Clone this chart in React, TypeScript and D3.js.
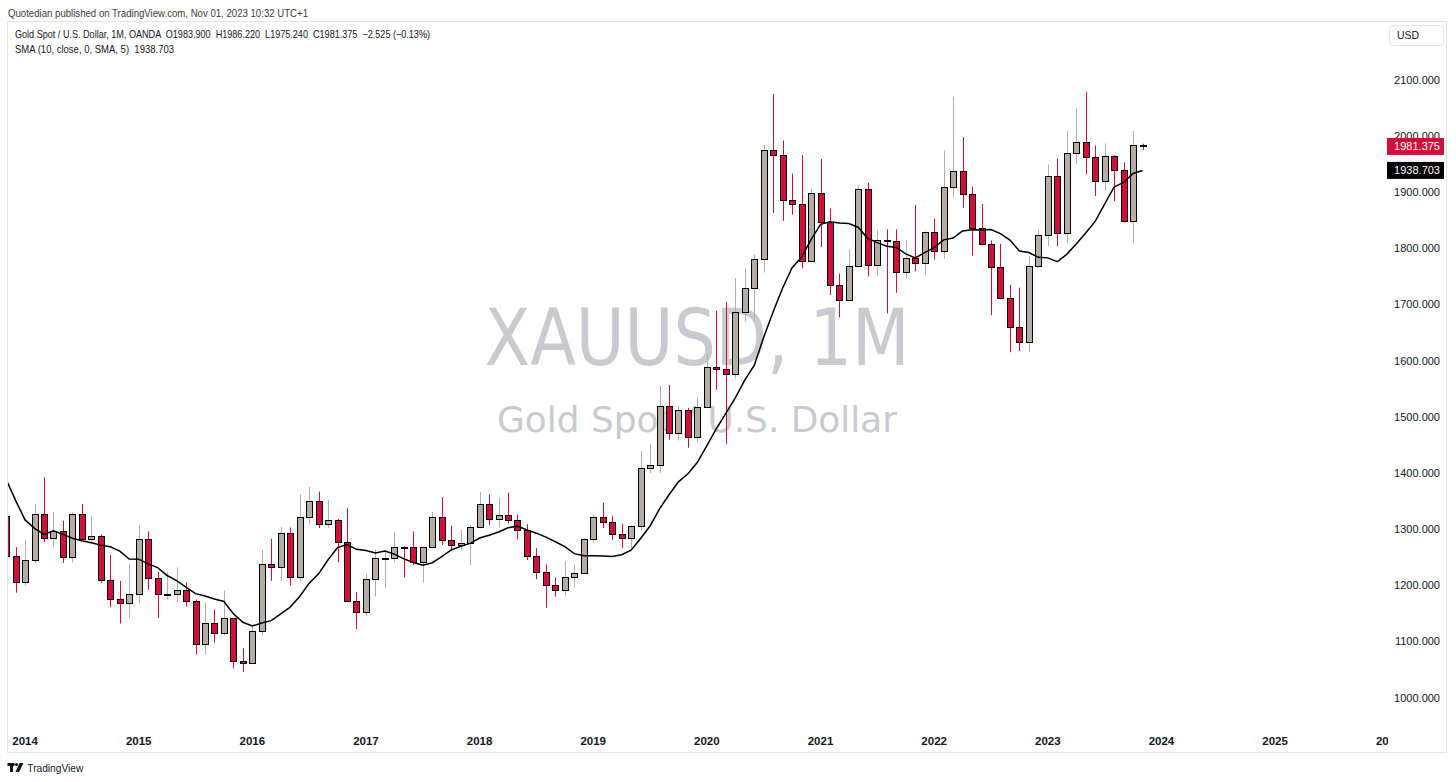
import React from 'react';
import * as d3 from 'd3';

// monthly XAUUSD candles, Nov 2013 .. Nov 2023
const priorCloses = [1578, 1595, 1476, 1392, 1234, 1313, 1395, 1327, 1323]; // Feb-Oct 2013, only for the SMA

const opens = [
    1323, 1253, 1206, 1246, 1327, 1284, 1296, 1250, 1327, 1283, 1287, 1210, 1176, 1169,
    1185, 1283, 1213, 1184, 1185, 1191, 1172, 1095, 1133, 1115, 1142, 1065,
    1061, 1118, 1238, 1233, 1293, 1215, 1322, 1351, 1309, 1316, 1277, 1173,
    1152, 1211, 1249, 1249, 1269, 1268, 1242, 1269, 1322, 1280, 1271, 1275,
    1303, 1345, 1318, 1325, 1316, 1299, 1253, 1224, 1201, 1192, 1215, 1222,
    1282, 1321, 1313, 1292, 1284, 1305, 1409, 1414, 1520, 1472, 1513, 1464,
    1517, 1589, 1585, 1577, 1686, 1730, 1781, 1975, 1967, 1886, 1879, 1777,
    1898, 1847, 1734, 1708, 1769, 1906, 1770, 1814, 1813, 1757, 1783, 1774,
    1829, 1796, 1909, 1937, 1896, 1837, 1807, 1766, 1711, 1660, 1633, 1768,
    1824, 1928, 1827, 1969, 1990, 1962, 1919, 1965, 1940, 1849, 1983.9,
];
const highs = [
    1362, 1268, 1281, 1345, 1392, 1331, 1315, 1330, 1345, 1323, 1290, 1255, 1208, 1238,
    1307, 1296, 1224, 1224, 1232, 1205, 1175, 1170, 1157, 1191, 1142, 1088,
    1128, 1263, 1283, 1304, 1303, 1362, 1375, 1367, 1352, 1318, 1337, 1188,
    1220, 1264, 1262, 1295, 1270, 1296, 1269, 1331, 1357, 1306, 1299, 1307,
    1366, 1362, 1356, 1365, 1326, 1309, 1266, 1237, 1214, 1243, 1237, 1284,
    1326, 1347, 1324, 1310, 1306, 1439, 1452, 1555, 1557, 1518, 1516, 1535,
    1611, 1689, 1704, 1747, 1765, 1789, 1984, 2075, 1992, 1933, 1966, 1906,
    1959, 1871, 1755, 1798, 1913, 1917, 1833, 1834, 1834, 1814, 1877, 1830,
    1853, 1974, 2070, 1998, 1910, 1879, 1814, 1808, 1735, 1730, 1786, 1833,
    1949, 1960, 2009, 2049, 2079, 1983, 1987, 1966, 1953, 2009, 1986.22,
];
const lows = [
    1221, 1187, 1200, 1239, 1277, 1268, 1240, 1241, 1281, 1274, 1204, 1161, 1132, 1142,
    1168, 1192, 1142, 1175, 1170, 1162, 1077, 1077, 1098, 1111, 1052, 1046,
    1060, 1111, 1208, 1208, 1199, 1208, 1310, 1302, 1302, 1241, 1171, 1122,
    1146, 1180, 1195, 1241, 1214, 1236, 1205, 1267, 1272, 1261, 1264, 1236,
    1303, 1307, 1303, 1310, 1282, 1245, 1211, 1160, 1180, 1182, 1196, 1221,
    1276, 1302, 1281, 1266, 1266, 1298, 1400, 1400, 1459, 1458, 1445, 1455,
    1517, 1548, 1451, 1568, 1670, 1671, 1757, 1863, 1849, 1860, 1764, 1775,
    1802, 1717, 1677, 1706, 1765, 1750, 1751, 1684, 1721, 1746, 1759, 1753,
    1780, 1781, 1890, 1872, 1787, 1805, 1681, 1709, 1615, 1617, 1616, 1765,
    1804, 1804, 1809, 1950, 1932, 1893, 1903, 1884, 1846, 1810, 1975.24,
];
const closes = [
    1253, 1206, 1246, 1327, 1284, 1296, 1250, 1327, 1283, 1287, 1210, 1176, 1169, 1185,
    1283, 1213, 1184, 1185, 1191, 1172, 1095, 1133, 1115, 1142, 1065, 1061,
    1118, 1238, 1233, 1293, 1215, 1322, 1351, 1309, 1316, 1277, 1173, 1152,
    1211, 1249, 1249.5, 1268, 1268, 1242, 1269, 1322, 1280, 1271, 1275, 1303,
    1345, 1318, 1325, 1316, 1299, 1253, 1224, 1201, 1192, 1215, 1222, 1282,
    1321, 1313, 1292, 1284, 1305, 1409, 1414, 1520, 1472, 1513, 1464, 1517,
    1589, 1585, 1577, 1686, 1730, 1781, 1975, 1967, 1886, 1879, 1777, 1898,
    1847, 1734, 1708, 1769, 1906, 1770, 1814, 1813, 1757, 1783, 1774, 1829,
    1796, 1909, 1937, 1896, 1837, 1807, 1766, 1711, 1660, 1633, 1768, 1824,
    1928, 1827, 1969, 1990, 1962, 1919, 1965, 1940, 1849, 1984, 1981.375,
];

const priceTicks = [1000, 1100, 1200, 1300, 1400, 1500, 1600, 1700, 1800, 1900, 2000, 2100];
const yearLabels = ['2014', '2015', '2016', '2017', '2018', '2019', '2020', '2021', '2022', '2023', '2024', '2025', '2026'];
const lastClose = 1981.375;
const smaLast = 1938.703;

const UP = '#b5ada3';
const DOWN = '#d0103a';
const GRID = '#e0e3eb';
const TXT = '#131722';
const FONT = '"Liberation Sans", Arial, sans-serif';

const paneLeft = 8;
const paneRight = 1388;
const frameTop = 22;
const frameBottom = 753;

// month index 0 = Nov 2013
const x = d3.scaleLinear().domain([0, 120]).range([6.1, 1142.5]);
const y = d3.scaleLinear().domain([1000, 2100]).range([697.7, 79.8]);

export default function App() {
    const allCloses = priorCloses.concat(closes);
    const sma = closes.map((_, i) => d3.mean(allCloses.slice(i, i + 10)) as number);
    const smaPath = d3
        .line<number>()
        .x((_, i) => x(i))
        .y((d) => y(d))(sma);

    const candles = closes.map((c, i) => {
        const o = opens[i];
        const up = c >= o;
        const cx = Math.round(x(i));
        const top = Math.round(y(Math.max(o, c)));
        const bot = Math.round(y(Math.min(o, c)));
        return (
            <g key={i}>
                <line
                    x1={cx + 0.5}
                    x2={cx + 0.5}
                    y1={y(highs[i])}
                    y2={y(lows[i])}
                    stroke={up ? UP : DOWN}
                    strokeWidth={1}
                />
                <rect
                    x={cx - 2.5}
                    y={top + 0.5}
                    width={6}
                    height={Math.max(bot - top, 1)}
                    fill={up ? UP : DOWN}
                    stroke="#000"
                    strokeWidth={1}
                />
            </g>
        );
    });

    return (
        <svg
            width={1456}
            height={782}
            style={{ position: 'absolute', left: 0, top: 0, background: '#fff' }}
            fontFamily={FONT}
        >
            <defs>
                <clipPath id="pane">
                    <rect x={paneLeft} y={frameTop} width={paneRight - paneLeft} height={frameBottom - frameTop} />
                </clipPath>
            </defs>

            <text x={8} y={16.5} fontSize={11} fill="#3b3b3b" textLength={300} lengthAdjust="spacingAndGlyphs">
                Quotedian published on TradingView.com, Nov 01, 2023 10:32 UTC+1
            </text>

            <rect x={7.5} y={21.5} width={1439} height={731} fill="#fff" stroke={GRID} />

            {/* watermark */}
            <text
                x={697}
                y={365}
                textAnchor="middle"
                fontFamily='"DejaVu Sans", sans-serif'
                fontSize={78}
                fill="#c9cacf"
                textLength={425}
                lengthAdjust="spacingAndGlyphs"
            >
                XAUUSD, 1M
            </text>
            <text
                x={697}
                y={432}
                textAnchor="middle"
                fontFamily='"DejaVu Sans", sans-serif'
                fontSize={36}
                fill="#c9cacf"
                textLength={400}
                lengthAdjust="spacingAndGlyphs"
            >
                Gold Spot / U.S. Dollar
            </text>

            <g clipPath="url(#pane)">
                {candles}
                <path d={smaPath ?? ''} fill="none" stroke="#000" strokeWidth={1.5} />
                {yearLabels.map((yr, k) => (
                    <text
                        key={yr}
                        x={x(2 + 12 * k)}
                        y={740.5}
                        dy="0.35em"
                        textAnchor="middle"
                        fontSize={11.5}
                        fontWeight="bold"
                        fill={TXT}
                    >
                        {yr}
                    </text>
                ))}
            </g>

            {/* legend */}
            <text x={15} y={38} fontSize={10.5} fill={TXT} textLength={415} lengthAdjust="spacingAndGlyphs" style={{ whiteSpace: 'pre' }}>
                {'Gold Spot / U.S. Dollar, 1M, OANDA  O1983.900  H1986.220  L1975.240  C1981.375  \u22122.525 (\u22120.13%)'}
            </text>
            <text x={15} y={52.5} fontSize={10.5} fill={TXT} textLength={159} lengthAdjust="spacingAndGlyphs" style={{ whiteSpace: 'pre' }}>
                {'SMA (10, close, 0, SMA, 5)  ' + smaLast.toFixed(3)}
            </text>

            {/* price axis */}
            <rect x={1389.5} y={25.5} width={54} height={20} rx={3} fill="#fff" stroke={GRID} />
            <text x={1397} y={35.5} dy="0.35em" fontSize={10.5} fill={TXT}>
                USD
            </text>
            {priceTicks.map((p) => (
                <text key={p} x={1440} y={y(p)} dy="0.35em" textAnchor="end" fontSize={11} fill={TXT}>
                    {p.toFixed(3)}
                </text>
            ))}
            <rect x={1387} y={y(lastClose) - 8.5} width={57} height={17} fill={DOWN} />
            <text x={1440} y={y(lastClose)} dy="0.35em" textAnchor="end" fontSize={11} fill="#fff">
                {lastClose.toFixed(3)}
            </text>
            <rect x={1387} y={y(smaLast) - 8.5} width={57} height={17} fill="#000" />
            <text x={1440} y={y(smaLast)} dy="0.35em" textAnchor="end" fontSize={11} fill="#fff">
                {smaLast.toFixed(3)}
            </text>

            {/* footer logo */}
            <g fill="#131722">
                <rect x={7.5} y={763} width={7} height={3} />
                <rect x={10} y={763} width={3} height={9} />
                <circle cx={16.5} cy={764.5} r={1.6} />
                <polygon points="15.5,772 19.5,763 23.5,763 19,772" />
            </g>
            <text x={27.3} y={771.5} fontSize={10.5} fill="#131722" textLength={56} lengthAdjust="spacingAndGlyphs">
                TradingView
            </text>
        </svg>
    );
}
